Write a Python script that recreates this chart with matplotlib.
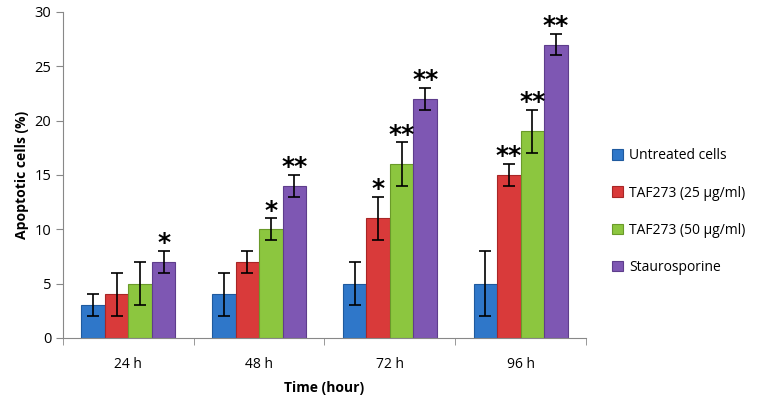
import matplotlib.pyplot as plt
import numpy as np

# data
times = ['24 h', '48 h', '72 h', '96 h']
series = ['Untreated cells', 'TAF273 (25 µg/ml)', 'TAF273 (50 µg/ml)', 'Staurosporine']
untreated = [3, 4, 5, 5]
taf25 = [4, 7, 11, 15]
taf50 = [5, 10, 16, 19]
stauro = [7, 14, 22, 27]
err_untreated = [1, 2, 2, 3]
err_taf25 = [2, 1, 2, 1]
err_taf50 = [2, 1, 2, 2]
err_stauro = [1, 1, 1, 1]
stars_untreated = ['', '', '', '']
stars_taf25 = ['', '', '*', '**']
stars_taf50 = ['', '*', '**', '**']
stars_stauro = ['*', '**', '**', '**']

colors = ['#2f77c9', '#d93a3a', '#8cc63f', '#7e57b3']
edges = ['#1f5a9e', '#a82626', '#6a9a2a', '#5e3d8c']


def main():
    plt.rcParams['font.family'] = ['Open Sans', 'DejaVu Sans']
    fig = plt.figure(figsize=(7.68, 4.11), dpi=100, facecolor='white')
    ax = fig.add_axes([0.082, 0.178, 0.681, 0.793])

    vals = [untreated, taf25, taf50, stauro]
    errs = [err_untreated, err_taf25, err_taf50, err_stauro]
    stars = [stars_untreated, stars_taf25, stars_taf50, stars_stauro]
    x = np.arange(len(times))
    w = 0.18
    for i in range(4):
        pos = x + (i - 1.5) * w
        ax.bar(pos, vals[i], w, color=colors[i], edgecolor=edges[i],
               linewidth=0.8, label=series[i], zorder=2)
        ax.errorbar(pos, vals[i], yerr=errs[i], fmt='none', ecolor='black',
                    elinewidth=1.2, capsize=4, capthick=1.2, zorder=3)
        for p, v, e, s in zip(pos, vals[i], errs[i], stars[i]):
            if s:
                ax.text(p, v + e - 0.4, s, ha='center', va='bottom',
                        fontsize=18, fontweight='bold',
                        family='DejaVu Sans', zorder=4)

    ax.set_xlim(-0.5, 3.5)
    ax.set_ylim(0, 30)
    ax.set_yticks(range(0, 31, 5))
    ax.set_xticks(x)
    ax.set_xticklabels(times, fontsize=10)
    ax.set_xticks(np.arange(-0.5, 4, 1), minor=True)
    ax.tick_params(axis='x', which='major', length=0, pad=14)
    ax.tick_params(axis='x', which='minor', length=5, color='#888888')
    ax.tick_params(axis='y', length=5, color='#888888', labelsize=10.5)
    for s in ['top', 'right']:
        ax.spines[s].set_visible(False)
    for s in ['left', 'bottom']:
        ax.spines[s].set_color('#888888')
    ax.set_ylabel('Apoptotic cells (%)', fontsize=10, fontweight='bold')
    ax.set_xlabel('Time (hour)', fontsize=10, fontweight='bold', labelpad=6)

    fig.legend(loc='center left', bbox_to_anchor=(0.781, 0.485), frameon=False,
               fontsize=10, handlelength=0.8, handleheight=0.8,
               handletextpad=0.4, labelspacing=1.6)

    fig.savefig('out.png', dpi=100, facecolor='white')


if __name__ == "__main__":
    main()
